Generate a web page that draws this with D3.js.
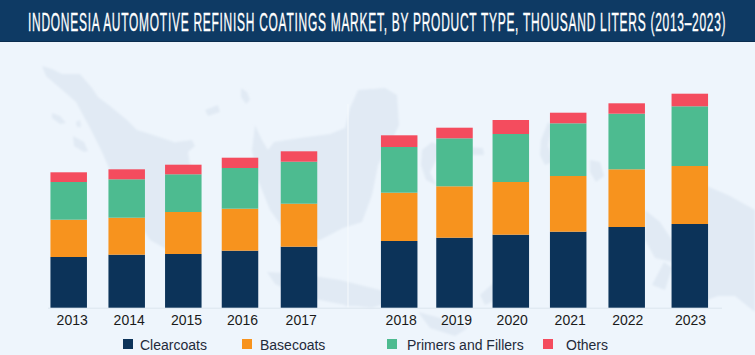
<!DOCTYPE html>
<html><head><meta charset="utf-8">
<script src="https://cdnjs.cloudflare.com/ajax/libs/d3/7.8.5/d3.min.js"></script>
<style>html,body{margin:0;padding:0;background:#eef5fc}svg{display:block}</style>
</head><body><div id="c"></div>
<script>
const titleText = "INDONESIA AUTOMOTIVE REFINISH COATINGS MARKET, BY PRODUCT TYPE, THOUSAND LITERS (2013–2023)";
const years = ["2013","2014","2015","2016","2017","2018","2019","2020","2021","2022","2023"];
const seriesNames = ["Clearcoats","Basecoats","Primers and Fillers","Others"];
const clearcoats = [50.7,53,53.7,57,61,66.7,70,73,76,80.7,83.7];
const basecoats  = [37.3,37,42,42,43,48.3,51.4,52.7,55.7,57.7,58];
const primers    = [37.7,38.4,37.7,40.7,42,45.7,48,48,52.7,55.6,59.7];
const others     = [9.7,10,9.6,10.3,10.4,11.7,10.6,14,10.6,10.4,12.6];
const seriesValues = [clearcoats,basecoats,primers,others];
const colors = ["#0c3359","#f7931e","#4dbb90","#f44c5e"];

const W=755,H=355;
const barCentres=[68.7,126.7,183.3,240,299,399.2,454.5,510.8,568.2,626.7,689.8];
const labelCentres=[71.7,128.7,186,242,300.7,400.7,456,511.7,569.7,627.3,690];
const barW=36.5, base=307.7;
const x=d3.scaleOrdinal().domain(years).range(barCentres);
const xLabel=d3.scaleOrdinal().domain(years).range(labelCentres);
const y=d3.scaleLinear().domain([0,220]).range([base,base-220]);

const svg=d3.select("#c").append("svg").attr("width",W).attr("height",H);
svg.append("rect").attr("width",W).attr("height",H).attr("fill","#eef5fc");

// faint backdrop map
const defs=svg.append("defs");
defs.append("filter").attr("id","soft").append("feGaussianBlur").attr("stdDeviation",1.1);
const land=[
 "M42,66 L52,69 L62,74 L80,74 L92,88 L98,97 L110,106 L127,120 L137,130 L150,134 L177,143 L186,158 L196,172 L200,215 L190,248 L168,250 L150,240 L128,205 L112,175 L102,152 L90,128 L76,102 L60,88 L46,76 Z",
 "M52,113 L60,116 L66,123 L60,124 L52,118 Z",
 "M73,136 L84,142 L88,151 L84,152 L74,146 Z",
 "M76,122 L80,120 L81,127 L77,127 Z",
 "M205,110 L218,105 L220,112 L208,116 Z",
 "M241,88 L247,92 L250,100 L246,104 L241,97 Z",
 "M255,125 L262,140 L268,150 L274,142 L300,138 L330,134 L345,128 L350,108 L358,90 L385,88 L397,95 L399,125 L392,140 L378,165 L372,195 L362,222 L343,228 L320,240 L290,238 L270,210 L258,180 L252,150 Z",
 "M176,142 L192,140 L195,146 L188,152 L190,165 L182,162 L178,152 Z",
 "M422,150 L432,142 L440,146 L436,160 L430,172 L436,185 L426,180 L421,165 Z",
 "M467,147 L483,148 L484,155 L470,155 Z",
 "M541,140 L548,122 L552,126 L548,145 L553,162 L545,165 L540,155 Z",
 "M590,160 L600,162 L604,176 L596,182 L590,172 Z",
 "M645,210 L660,222 L672,240 L672,262 L655,258 L645,240 Z",
 "M707,186 L730,196 L755,210 L755,312 L735,296 L718,296 L707,300 Z",
 "M267,272 L300,274 L340,280 L380,290 L395,300 L372,308 L340,304 L300,296 L275,284 Z",
 "M418,312 L440,318 L468,328 L455,336 L430,328 Z",
 "M340,292 L362,296 L373,306 L345,306 Z",
 "M480,295 L510,268 L520,272 L500,298 L485,305 Z",
 "M652,285 L664,262 L672,268 L665,290 Z"
];
svg.append("g").attr("filter","url(#soft)").selectAll("path").data(land).join("path")
  .attr("d",d=>d).attr("fill","#e1eaf4");

svg.append("line").attr("x1",348).attr("x2",348).attr("y1",104).attr("y2",base).attr("stroke","#f6fafd").attr("stroke-width",1);

// header
svg.append("rect").attr("width",W).attr("height",42).attr("fill","#0e3a64");
svg.append("rect").attr("y",41).attr("width",W).attr("height",1).attr("fill","#0a2c4e");
const title=svg.append("text").attr("fill","#fff")
  .attr("font-family","'Liberation Sans',Arial,sans-serif")
  .attr("font-size",26).attr("letter-spacing",1.6).attr("stroke","#fff").attr("stroke-width",0.35).text(titleText);
const natural=title.node().getComputedTextLength();
title.attr("transform",`translate(28,31) scale(${699/natural},1)`);

// baseline
svg.append("line").attr("x1",48).attr("x2",722).attr("y1",base+0.5).attr("y2",base+0.5).attr("stroke","#dbe5ee");

// stacked bars
const rows=years.map((yr,i)=>{const r={year:yr};seriesNames.forEach((s,j)=>r[s]=seriesValues[j][i]);return r;});
const stacked=d3.stack().keys(seriesNames)(rows);
svg.append("g").selectAll("g").data(stacked).join("g").attr("fill",(d,i)=>colors[i])
  .selectAll("rect").data(d=>d).join("rect")
  .attr("x",d=>x(d.data.year)-barW/2).attr("width",barW)
  .attr("y",d=>y(d[1])).attr("height",d=>y(d[0])-y(d[1]));

// axis
const ax=svg.append("g").attr("transform",`translate(0,${base})`)
  .call(d3.axisBottom(xLabel).tickSize(0).tickPadding(7));
ax.select(".domain").remove();
ax.selectAll("text").attr("font-family","'Liberation Sans',Arial,sans-serif").attr("font-size",14).attr("fill","#1a1a1a");

// legend
const legendSwatch=[123,242,387,543], legendText=[140,260,407,566];
const lg=svg.append("g").selectAll("g").data(seriesNames).join("g");
lg.append("rect").attr("x",(d,i)=>legendSwatch[i]).attr("y",339).attr("width",10).attr("height",10).attr("fill",(d,i)=>colors[i]);
lg.append("text").attr("x",(d,i)=>legendText[i]).attr("y",349.5)
  .attr("font-family","'Liberation Sans',Arial,sans-serif").attr("font-size",14).attr("fill","#1f2a3a").text(d=>d);
</script></body></html>
